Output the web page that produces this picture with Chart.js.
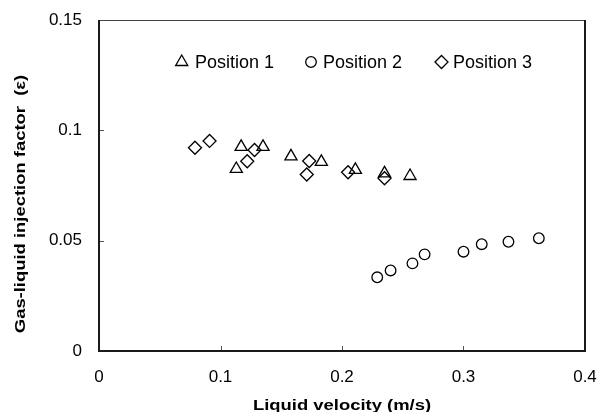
<!DOCTYPE html>
<html>
<head>
<meta charset="utf-8">
<script src="https://cdn.jsdelivr.net/npm/chart.js@4/dist/chart.umd.min.js"></script>
<style>
  html, body { margin: 0; padding: 0; background: #fff; }
  #wrap { width: 597px; height: 412px; position: relative; }
</style>
</head>
<body>
<div id="wrap"><canvas id="c"></canvas></div>
<script>
// ---- data ----
const seriesNames = ['Position 1', 'Position 2', 'Position 3'];
const pos1Velocity = [0.113, 0.117, 0.135, 0.158, 0.183, 0.211, 0.235, 0.256];
const pos1Factor   = [0.0825, 0.0925, 0.0925, 0.0882, 0.0857, 0.0821, 0.0805, 0.0793];
const pos2Velocity = [0.229, 0.240, 0.258, 0.268, 0.300, 0.315, 0.337, 0.362];
const pos2Factor   = [0.0334, 0.0365, 0.0397, 0.0438, 0.0450, 0.0484, 0.0495, 0.0511];
const pos3Velocity = [0.079, 0.091, 0.122, 0.128, 0.171, 0.173, 0.205, 0.235];
const pos3Factor   = [0.0921, 0.0952, 0.0860, 0.0911, 0.0800, 0.0861, 0.0810, 0.0783];
const xTickLabels = ['0', '0.1', '0.2', '0.3', '0.4'];
const yTickLabels = ['0', '0.05', '0.1', '0.15'];
const xTitle = 'Liquid velocity (m/s)';
const yTitle = 'Gas-liquid injection factor  (\u03b5)';

const FONT = "'Liberation Sans', Arial, sans-serif";
const pointStyles = ['triangle', 'circle', 'rectRot'];
const pointRadii = [7, 5.3, 6.5];

function pts(xs, ys) { return xs.map((x, i) => ({ x: x, y: ys[i] })); }

const datasets = [
  pts(pos1Velocity, pos1Factor),
  pts(pos2Velocity, pos2Factor),
  pts(pos3Velocity, pos3Factor)
].map((d, i) => ({
  label: seriesNames[i],
  data: d,
  showLine: false,
  pointStyle: pointStyles[i],
  pointRadius: pointRadii[i],
  pointHoverRadius: pointRadii[i],
  pointBorderWidth: 1.3,
  borderColor: '#000',
  backgroundColor: 'rgba(0,0,0,0)'
}));

function drawMarker(ctx, style, r, x, y) {
  const opts = { pointStyle: style, radius: r, rotation: 0, borderWidth: 1.3 };
  ctx.save();
  ctx.strokeStyle = '#000';
  ctx.fillStyle = 'rgba(0,0,0,0)';
  ctx.lineWidth = 1.3;
  if (Chart.helpers && Chart.helpers.drawPoint) {
    Chart.helpers.drawPoint(ctx, opts, x, y);
  }
  ctx.restore();
}

const framePlugin = {
  id: 'frame',
  afterDraw(chart) {
    const ctx = chart.ctx;
    const a = chart.chartArea;
    const xs = chart.scales.x, ys = chart.scales.y;
    ctx.save();
    // inward tick marks
    ctx.strokeStyle = '#555';
    ctx.lineWidth = 1;
    ctx.beginPath();
    xs.ticks.forEach(t => {
      const px = Math.round(xs.getPixelForValue(t.value)) + 0.5;
      ctx.moveTo(px, a.bottom); ctx.lineTo(px, a.bottom - 5);
    });
    ys.ticks.forEach(t => {
      const py = Math.round(ys.getPixelForValue(t.value)) + 0.5;
      ctx.moveTo(a.left, py); ctx.lineTo(a.left + 5, py);
    });
    ctx.stroke();
    // top border (thin)
    ctx.strokeStyle = '#444';
    ctx.lineWidth = 1;
    ctx.beginPath();
    ctx.moveTo(a.left, a.top + 0.5); ctx.lineTo(a.right, a.top + 0.5);
    ctx.stroke();
    // left, bottom, right borders
    ctx.strokeStyle = '#1a1a1a';
    ctx.lineWidth = 2;
    ctx.beginPath();
    ctx.moveTo(a.left, a.top); ctx.lineTo(a.left, a.bottom);
    ctx.lineTo(a.right, a.bottom); ctx.lineTo(a.right, a.top);
    ctx.stroke();

    // axis titles (bold, horizontally stretched as in the reference)
    ctx.fillStyle = '#000';
    ctx.font = 'bold 14.5px ' + FONT;
    ctx.textAlign = 'center';
    ctx.textBaseline = 'alphabetic';
    ctx.save();
    ctx.translate((a.left + a.right) / 2, 409.5);
    ctx.scale(1.27, 1);
    ctx.fillText(xTitle, 0, 0);
    ctx.restore();
    ctx.save();
    ctx.translate(25.3, 204);
    ctx.rotate(-Math.PI / 2);
    ctx.scale(1.27, 1);
    ctx.fillText(yTitle, 0, 0);
    ctx.restore();

    // legend inside plot
    const legendMarkerX = [181.7, 311, 441.5];
    const legendTextX = [195, 323, 453];
    const legendY = 62;
    ctx.font = '18px ' + FONT;
    ctx.textAlign = 'left';
    ctx.textBaseline = 'middle';
    seriesNames.forEach((name, i) => {
      drawMarker(ctx, pointStyles[i], pointRadii[i], legendMarkerX[i], legendY);
      ctx.fillStyle = '#000';
      ctx.fillText(name, legendTextX[i], legendY + 1);
    });
    ctx.restore();
  }
};

new Chart(document.getElementById('c'), {
  type: 'scatter',
  data: { datasets: datasets },
  options: {
    responsive: true,
    maintainAspectRatio: false,
    animation: false,
    events: [],
    layout: { padding: { top: 20, right: 12, left: 0, bottom: 0 } },
    plugins: { legend: { display: false }, tooltip: { enabled: false } },
    scales: {
      x: {
        type: 'linear',
        min: 0, max: 0.4,
        grid: { display: false, drawTicks: false },
        border: { display: false },
        ticks: {
          stepSize: 0.1,
          padding: 16,
          color: '#000',
          font: { family: FONT, size: 17 },
          maxRotation: 0,
          callback: (v, i) => xTickLabels[i]
        },
        afterFit(s) { s.height = 61; s.paddingLeft = 0; s.paddingRight = 0; s.paddingTop = 0; s.paddingBottom = 0; }
      },
      y: {
        type: 'linear',
        min: 0, max: 0.15,
        grid: { display: false, drawTicks: false },
        border: { display: false },
        ticks: {
          stepSize: 0.05,
          padding: 17,
          color: '#000',
          font: { family: FONT, size: 17 },
          callback: (v, i) => yTickLabels[i]
        },
        afterFit(s) { s.width = 99; s.paddingLeft = 0; s.paddingRight = 0; s.paddingTop = 0; s.paddingBottom = 0; }
      }
    }
  },
  plugins: [framePlugin]
});
</script>
</body>
</html>
